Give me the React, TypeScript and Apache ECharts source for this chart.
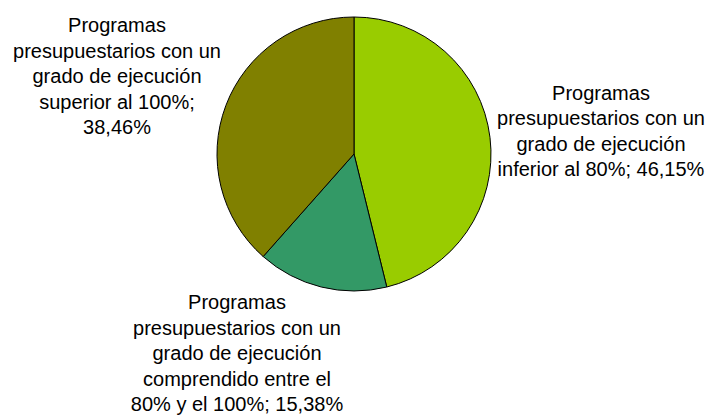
import React, { useEffect, useRef } from "react";
import * as echarts from "echarts";

const categories = [
  "Programas presupuestarios con un grado de ejecución inferior al 80%",
  "Programas presupuestarios con un grado de ejecución comprendido entre el 80% y el 100%",
  "Programas presupuestarios con un grado de ejecución superior al 100%",
];
const values = [46.15, 15.38, 38.46];
const labelTexts = [
  "Programas\npresupuestarios con un\ngrado de ejecución\ninferior al 80%; {v}",
  "Programas\npresupuestarios con un\ngrado de ejecución\ncomprendido entre el\n80% y el 100%; {v}",
  "Programas\npresupuestarios con un\ngrado de ejecución\nsuperior al 100%;\n{v}",
];
const colors = ["#99CC00", "#339966", "#808000"];
const labelPositions = [
  [601, 131],
  [237, 353],
  [117, 76],
];

export default function App() {
  const ref = useRef<HTMLDivElement>(null);
  useEffect(() => {
    document.body.style.margin = "0";
    const chart = echarts.init(ref.current!, null, { renderer: "svg" });
    chart.setOption({
      animation: false,
      backgroundColor: "#ffffff",
      series: [
        {
          type: "pie",
          center: [354, 154],
          radius: 137,
          startAngle: 90,
          clockwise: true,
          data: categories.map((c, i) => ({
            name: c,
            value: values[i],
            itemStyle: { color: colors[i] },
          })),
          itemStyle: { borderColor: "#000000", borderWidth: 1 },
          label: {
            show: true,
            color: "#000000",
            fontFamily: "Liberation Sans, Arial, sans-serif",
            fontSize: 20,
            lineHeight: 25.5,
            align: "center",
            overflow: "none",
            width: 300,
            formatter: (p: any) =>
              labelTexts[p.dataIndex].replace(
                "{v}",
                values[p.dataIndex].toFixed(2).replace(".", ",") + "%"
              ),
          },
          labelLine: { show: false },
          labelLayout: (params: any) => ({
            x: labelPositions[params.dataIndex][0],
            y: labelPositions[params.dataIndex][1],
            align: "center",
            verticalAlign: "middle",
          }),
          emphasis: { disabled: true },
        },
      ],
    });
    return () => chart.dispose();
  }, []);
  return <div ref={ref} style={{ width: 707, height: 416 }} />;
}
